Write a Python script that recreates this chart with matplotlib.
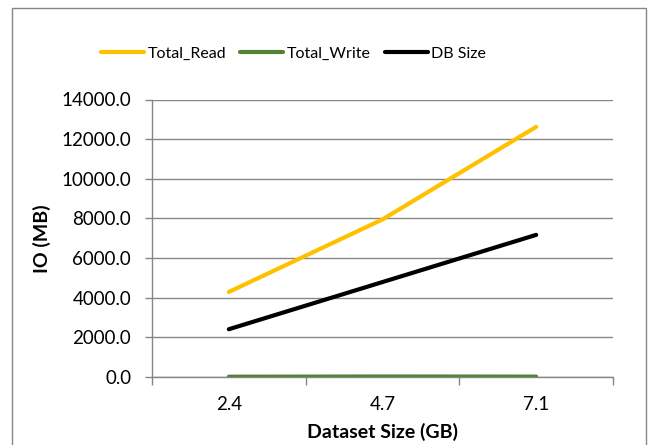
import matplotlib
matplotlib.use("Agg")
import matplotlib.pyplot as plt
from matplotlib.patches import Rectangle

categories = ["2.4", "4.7", "7.1"]
total_read = [4290, 7950, 12620]
total_write = [15, 25, 20]
db_size = [2410, 4790, 7170]
yticks = [0, 2000, 4000, 6000, 8000, 10000, 12000, 14000]

plt.rcParams['font.family'] = ['Lato', 'DejaVu Sans']
W, H = 649, 445
fig = plt.figure(figsize=(W / 100, H / 100), dpi=100)
ax_w, ax_h = (613 - 152), (377 - 99.5)
ax = fig.add_axes([152 / W, 1 - 377 / H, ax_w / W, ax_h / H])

grey = '#868686'
x = [i + 0.5 for i in range(len(categories))]
l1, = ax.plot(x, total_read, color='#FFC000', lw=3, solid_capstyle='round', label='Total_Read')
l2, = ax.plot(x, total_write, color='#538135', lw=3, solid_capstyle='round', label='Total_Write')
l3, = ax.plot(x, db_size, color='#000000', lw=3, solid_capstyle='round', label='DB Size')

ax.set_xlim(0, len(categories))
ax.set_ylim(0, 14000)
ax.set_yticks(yticks)
ax.set_yticklabels([f"{v:.1f}" for v in yticks], fontsize=13.5)
ax.set_xticks(range(len(categories) + 1))
ax.set_xticklabels([])
ax.set_xticks(x, minor=True)
ax.set_xticklabels(categories, minor=True, fontsize=13.5)
ax.tick_params(axis='x', which='major', length=6, color=grey, width=1)
ax.tick_params(axis='x', which='minor', length=0, pad=14)
ax.tick_params(axis='y', length=5, color=grey, width=1, pad=10)
ax.grid(axis='y', color=grey, lw=1)
ax.set_axisbelow(True)
for s in ['top', 'right']:
    ax.spines[s].set_visible(False)
for s in ['left', 'bottom']:
    ax.spines[s].set_color(grey)
    ax.spines[s].set_linewidth(1)

ax.set_xlabel('Dataset Size (GB)', fontsize=14, fontweight='bold')
ax.set_ylabel('IO (MB)', fontsize=14, fontweight='bold')
ax.yaxis.set_label_coords((51 - 152) / ax_w, 0.5)
ax.xaxis.set_label_coords(0.5, (377 - 423) / ax_h)

fig.legend(handles=[l1, l2, l3], loc='center', bbox_to_anchor=(293.5 / W, 1 - 54 / H),
           ncol=3, frameon=False, fontsize=11.5, handlelength=2.7, handletextpad=0.2,
           columnspacing=0.9)

fig.patches.append(Rectangle((12 / W, -0.1), (646 - 12) / W, 1.1 - 8 / H,
                             transform=fig.transFigure, fill=False, edgecolor=grey, lw=1))

fig.savefig('out.png', dpi=100)
